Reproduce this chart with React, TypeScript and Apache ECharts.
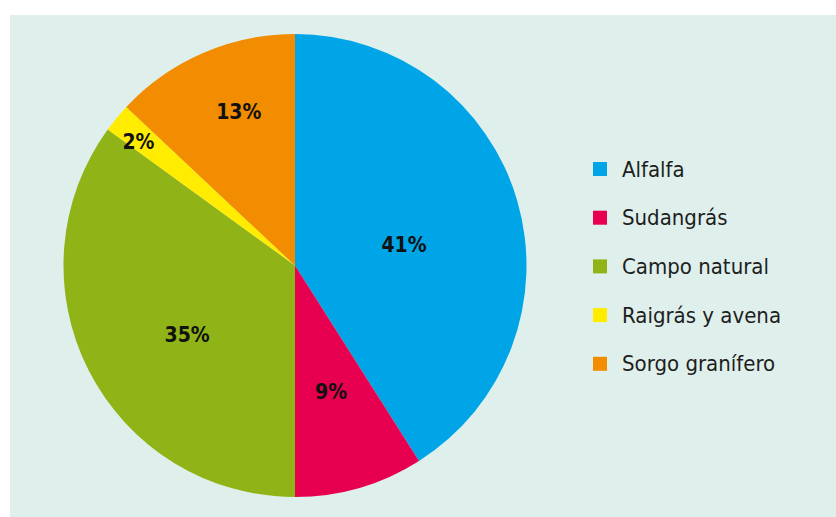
import React, { useEffect, useRef } from "react";
import * as echarts from "echarts";

const categories = ["Alfalfa", "Sudangrás", "Campo natural", "Raigrás y avena", "Sorgo granífero"];
const values = [41, 9, 35, 2, 13];
const colors = ["#00a5e8", "#e6004f", "#90b317", "#ffec00", "#f28c00"];

const labelOffsets: [number, number][] = [
  [-5, 13],
  [3, 12],
  [-2, 16],
  [-65, -48],
  [-9, -45],
];

const FONT = '"Liberation Sans Narrow", "DejaVu Sans Condensed", "Roboto", sans-serif';

export default function App() {
  const ref = useRef<HTMLDivElement>(null);
  useEffect(() => {
    if (!ref.current) return;
    const chart = echarts.init(ref.current, undefined, { renderer: "svg" });
    chart.setOption({
      animation: false,
      backgroundColor: "#ffffff",
      graphic: [
        {
          type: "rect",
          z: -10,
          shape: { x: 10, y: 15, width: 826, height: 502 },
          style: { fill: "#dff0ec" },
          silent: true,
        },
      ],
      legend: {
        orient: "vertical",
        left: 593,
        top: 158,
        padding: 0,
        itemWidth: 14,
        itemHeight: 14,
        itemGap: 26.7,
        icon: "rect",
        data: categories,
        textStyle: {
          fontFamily: FONT,
          fontSize: 22,
          lineHeight: 22,
          color: "#1e1e1e",
          padding: [0, 0, 0, 10],
        },
      },
      series: [
        {
          type: "pie",
          center: [295, 265.5],
          radius: 231.5,
          startAngle: 90,
          clockwise: true,
          color: colors,
          itemStyle: { borderWidth: 0 },
          label: {
            show: true,
            position: "inside",
            formatter: "{c}%",
            fontFamily: FONT,
            fontWeight: "bold",
            fontSize: 21,
            color: "#111111",
          },
          labelLine: { show: false },
          emphasis: { disabled: true },
          data: categories.map((name, i) => ({
            name,
            value: values[i],
            label: { offset: labelOffsets[i] },
          })),
        },
      ],
    });
    return () => chart.dispose();
  }, []);
  return (
    <div
      ref={ref}
      style={{ position: "fixed", left: 0, top: 0, width: 836, height: 517 }}
    />
  );
}
